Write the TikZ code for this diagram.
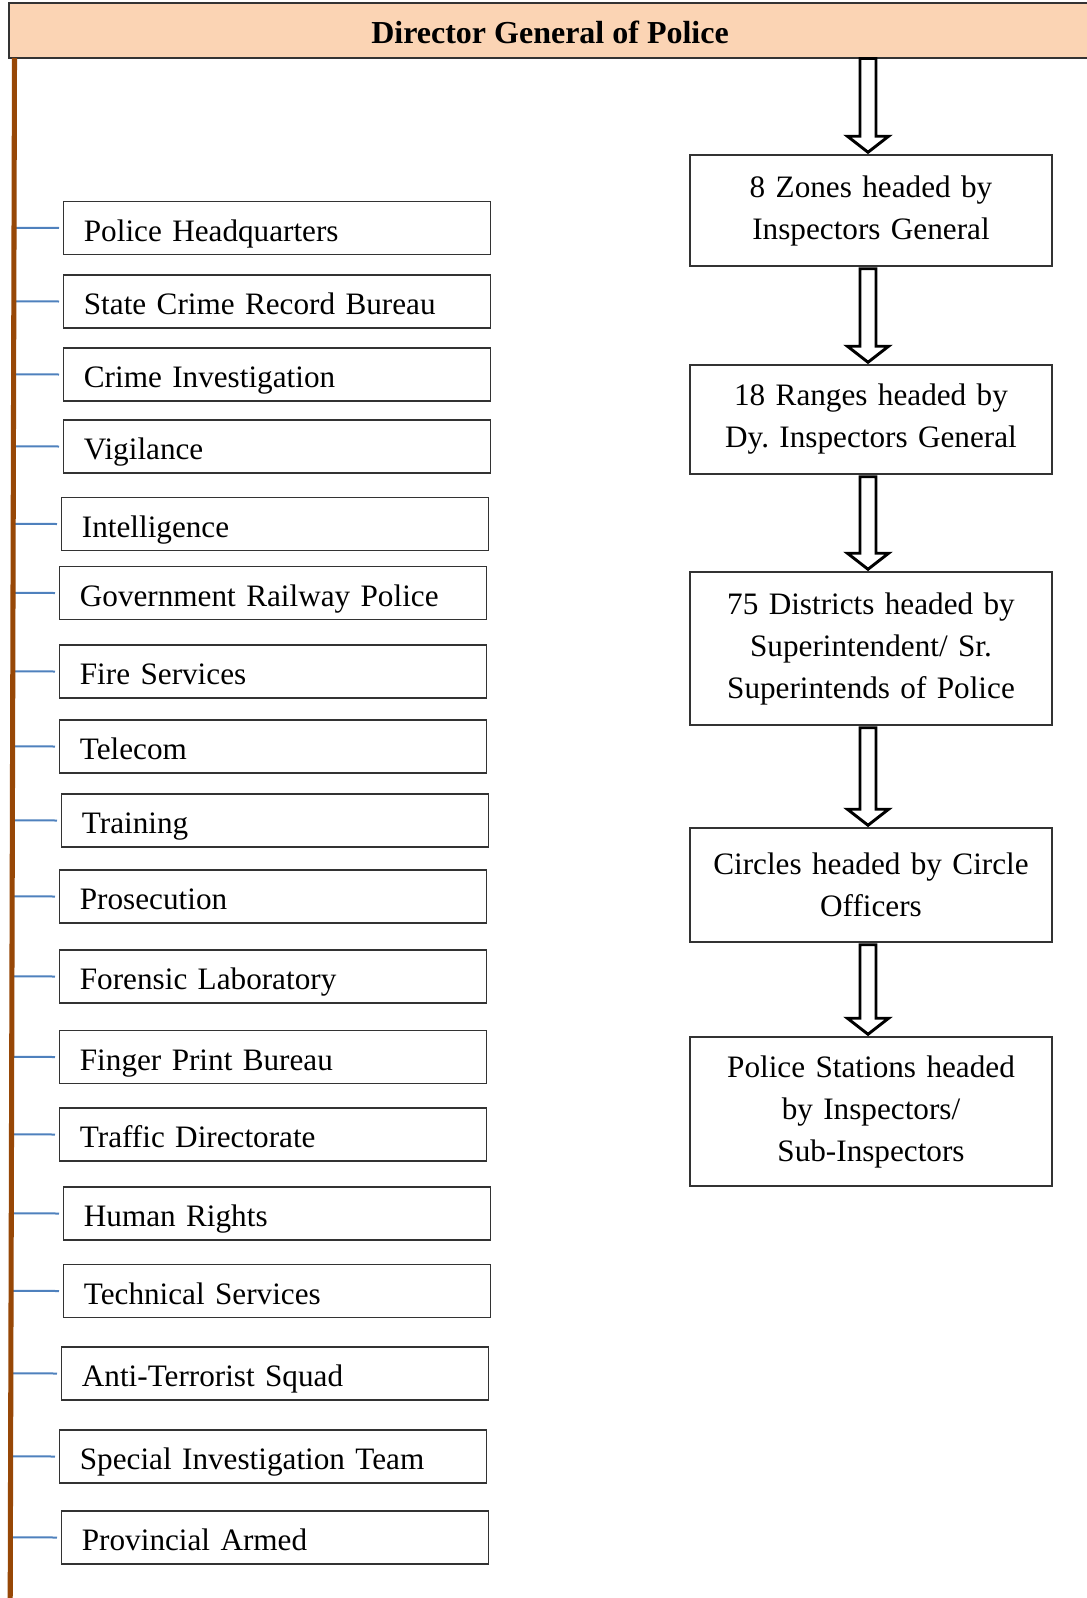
\documentclass[tikz,border=0pt]{standalone}
\usepackage{fontspec}
\setmainfont{Liberation Serif}
\frenchspacing
\usetikzlibrary{calc}
\definecolor{hdrfill}{HTML}{FBD4B4}
\definecolor{brownline}{HTML}{974706}
\definecolor{tickblue}{HTML}{4F81BD}
\tikzset{
 lbox/.style={draw=black!80, line width=1.1pt, anchor=west, minimum width=320.25pt, minimum height=39.75pt, text width=290pt, inner xsep=14pt, inner ysep=2pt, align=left, text height=21pt, text depth=1.5pt, font=\fontsize{23.4}{30}\selectfont},
 rbox/.style={draw=black!80, line width=1.1pt, minimum width=271.5pt, text width=255pt, inner xsep=6pt, align=center, font=\fontsize{23.4}{31.5}\selectfont},
 tickline/.style={draw=tickblue, line width=1.5pt},
 blockarrow/.style={draw=black, line width=2.2pt, fill=white, line join=miter},
}
\newcommand\blockarr[3]{%
 \draw[blockarrow] let \p1=(#1.south), \p2=(#2.north) in
  (\x2-8.25pt,\y1-#3) -- (\x2-8.25pt,\y2+13.5pt) -- (\x2-17.65pt,\y2+13.5pt) -- (\x2-2.25pt,\y2+1.5pt)
  -- (\x2+13.15pt,\y2+13.5pt) -- (\x2+3.75pt,\y2+13.5pt) -- (\x2+3.75pt,\y1-#3) -- cycle;}
\begin{document}
\begin{tikzpicture}[x=0.75pt,y=-0.75pt]
\useasboundingbox (0,0) rectangle (1086,1598);
\node[draw=black!80, line width=0.8pt, fill=hdrfill, minimum width=811.5pt, minimum height=41.25pt, inner sep=0pt, text height=19pt, text depth=0pt, font=\bfseries\fontsize{24}{28}\selectfont] (dgp) at (550,30.5) {Director General of Police};

\node[lbox] (b1) at (63,228) {Police Headquarters};
\node[lbox] (b2) at (63,301.5) {State Crime Record Bureau};
\node[lbox] (b3) at (63,374.5) {Crime Investigation};
\node[lbox] (b4) at (63,446.5) {Vigilance};
\node[lbox] (b5) at (61,524) {Intelligence};
\node[lbox] (b6) at (59,593) {Government Railway Police};
\node[lbox] (b7) at (59,671.5) {Fire Services};
\node[lbox] (b8) at (59,746.5) {Telecom};
\node[lbox] (b9) at (61,820.5) {Training};
\node[lbox] (b10) at (59,896.5) {Prosecution};
\node[lbox] (b11) at (59,976.5) {Forensic Laboratory};
\node[lbox] (b12) at (59,1057) {Finger Print Bureau};
\node[lbox] (b13) at (59,1134.5) {Traffic Directorate};
\node[lbox] (b14) at (63,1213.5) {Human Rights};
\node[lbox] (b15) at (63,1291) {Technical Services};
\node[lbox] (b16) at (61,1373.5) {Anti-Terrorist Squad};
\node[lbox] (b17) at (59,1456.5) {Special Investigation Team};
\node[lbox] (b18) at (61,1537.5) {Provincial Armed};

\coordinate (ltop) at (14.5,58);
\coordinate (lbot) at (10.2,1602);
\foreach \i in {1,...,18}
  \draw[tickline] ($(ltop)!(b\i.west)!(lbot)$) -- ([xshift=-3pt]b\i.west);
\draw[draw=brownline, line width=3.8pt] (ltop) -- (lbot);

\node[rbox, minimum height=83.25pt] (r1) at (871,210.5) {8 Zones headed by\\Inspectors General};
\node[rbox, minimum height=81.75pt] (r2) at (871,419.5) {18 Ranges headed by\\Dy. Inspectors General};
\node[rbox, minimum height=114.75pt] (r3) at (871,648.5) {75 Districts headed by\\Superintendent/ Sr.\\Superintends of Police};
\node[rbox, minimum height=85.5pt] (r4) at (871,885) {Circles headed by Circle\\Officers};
\node[rbox, minimum height=111.75pt] (r5) at (871,1111.5) {Police Stations headed\\by Inspectors/\\Sub-Inspectors};

\blockarr{dgp}{r1}{0pt}
\blockarr{r1}{r2}{1.5pt}
\blockarr{r2}{r3}{1.5pt}
\blockarr{r3}{r4}{1.5pt}
\blockarr{r4}{r5}{1.5pt}
\end{tikzpicture}
\end{document}
